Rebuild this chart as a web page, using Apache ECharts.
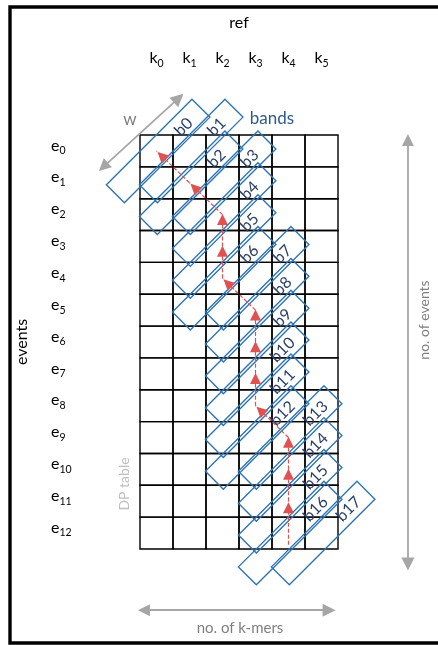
<!DOCTYPE html>
<html><head><meta charset="utf-8">
<script src="https://cdn.jsdelivr.net/npm/echarts@6/dist/echarts.min.js"></script>
<style>html,body{margin:0;padding:0;background:#fff}#c{width:438px;height:645px}</style>
</head><body><div id="c"></div>
<script>
// ---- data ----
const kmerLabels = ['0','1','2','3','4','5'];
const eventLabels = ['0','1','2','3','4','5','6','7','8','9','10','11','12'];
const bandNames = ['b0','b1','b2','b3','b4','b5','b6','b7','b8','b9','b10','b11','b12','b13','b14','b15','b16','b17'];
const bandRows = [0,0,1,1,2,3,4,4,5,6,7,8,9,9,10,11,12,12];
const bandCols = [0,1,1,2,2,2,2,3,3,3,3,3,3,4,4,4,4,5];
const traceCols = [4,4,4,4,3,3,3,3,2,2,2,1,0];
const traceRows = [12.37,11,10,9,8,7,6,5,4,3,2,1,0];
const eventsArrowX = [8.12, 8.12];
const eventsArrowY = [0.16, 13.47];
const kmerArrowX = [0.12, 5.73];
const kmerArrowY = [14.92, 14.92];
const wArrowX = [-1.11, 1.17];
const wArrowY = [1.0, -1.16];

// ---- build ----
const FONT = 'Lato, "Open Sans", sans-serif';
const cells = [];
eventLabels.forEach((e, r) => kmerLabels.forEach((k, c) => cells.push([c, r])));
const bandData = bandNames.map((n, i) => [bandCols[i] + 0.55, bandRows[i] + 0.5]);
const tracePts = traceCols.map((c, i) => [c + 0.5, traceRows[i] + 0.5]);
const arrowSegs = [], connSegs = [];
for (let i = 0; i < tracePts.length - 1; i++) {
  const a = tracePts[i], b = tracePts[i + 1];
  const q = [a[0] + (b[0] - a[0]) * 0.85, a[1] + (b[1] - a[1]) * 0.85];
  arrowSegs.push({coords: [a, q]});
  connSegs.push({coords: [q, b]});
}

const chart = echarts.init(document.getElementById('c'), null, {renderer: 'canvas'});
const sub = () => ({
  b: {fontSize: 16, lineHeight: 16, verticalAlign: 'top', color: '#000', fontFamily: FONT},
  s: {fontSize: 10.5, lineHeight: 27, color: '#000', fontFamily: FONT}
});
chart.setOption({
  animation: false,
  grid: {left: 140, top: 135, width: 198, height: 414},
  xAxis: [
    {type: 'value', min: 0, max: 6, show: false},
    {type: 'category', position: 'top', data: kmerLabels, boundaryGap: true,
     axisLine: {show: false}, axisTick: {show: false}, splitLine: {show: false},
     axisLabel: {interval: 0, margin: 58, formatter: v => '{b|k}{s|' + v + '}', rich: sub()},
     name: 'ref', nameLocation: 'middle', nameGap: 104,
     nameTextStyle: {fontSize: 16, color: '#000', fontFamily: FONT}}
  ],
  yAxis: [
    {type: 'value', min: 0, max: 13, inverse: true, show: false},
    {type: 'category', position: 'left', inverse: true, data: eventLabels, boundaryGap: true,
     axisLine: {show: false}, axisTick: {show: false}, splitLine: {show: false},
     axisLabel: {interval: 0, margin: 89, align: 'left', formatter: v => '{b|e}{s|' + v + '}', rich: sub()},
     name: 'events', nameLocation: 'middle', nameGap: 110, nameRotate: 90,
     nameTextStyle: {fontSize: 16, color: '#000', fontFamily: FONT}}
  ],
  series: [
    {type: 'custom', xAxisIndex: 0, yAxisIndex: 0, data: cells, z: 1, silent: true,
     renderItem: (params, api) => {
       const c = api.value(0), r = api.value(1);
       const p0 = api.coord([c, r]), p1 = api.coord([c + 1, r + 1]);
       return {type: 'rect', shape: {x: Math.min(p0[0], p1[0]), y: Math.min(p0[1], p1[1]),
               width: Math.abs(p1[0] - p0[0]), height: Math.abs(p1[1] - p0[1])},
               style: {fill: 'none', stroke: '#000', lineWidth: 1.4}};
     }},
    {type: 'custom', xAxisIndex: 0, yAxisIndex: 0, data: bandData, z: 2, silent: true, clip: false,
     renderItem: (params, api) => {
       const p = api.coord([api.value(0), api.value(1)]);
       const s = Math.SQRT1_2, hl = 60.5, hw = 12.7;
       const u = [s, -s], v = [s, s];
       const pt = (a, b) => [p[0] + u[0] * a + v[0] * b, p[1] + u[1] * a + v[1] * b];
       const t = pt(35, 1);
       return {type: 'group', children: [
         {type: 'polygon', shape: {points: [pt(hl, -hw), pt(hl, hw), pt(-hl, hw), pt(-hl, -hw)]},
          style: {fill: 'none', stroke: '#2e75b6', lineWidth: 1.4}},
         {type: 'text', x: t[0], y: t[1], rotation: Math.PI / 4,
          style: {text: bandNames[params.dataIndex], fill: '#2c4068', font: '16px ' + FONT,
                  align: 'center', verticalAlign: 'middle', textAlign: 'center', textVerticalAlign: 'middle'}}
       ]};
     }},
    {type: 'lines', coordinateSystem: 'cartesian2d', xAxisIndex: 0, yAxisIndex: 0, z: 3, clip: false, silent: true,
     data: arrowSegs, symbol: ['none', 'triangle'], symbolSize: [9, 11],
     lineStyle: {color: '#e05252', width: 1.2, type: [4, 2], opacity: 1}},
    {type: 'lines', coordinateSystem: 'cartesian2d', xAxisIndex: 0, yAxisIndex: 0, z: 3, clip: false, silent: true,
     data: connSegs, symbol: 'none',
     lineStyle: {color: '#e05252', width: 1.2, type: [4, 2], opacity: 1}},
    {type: 'lines', coordinateSystem: 'cartesian2d', xAxisIndex: 0, yAxisIndex: 0, z: 3, clip: false, silent: true,
     data: [
       {coords: [[eventsArrowX[0], eventsArrowY[0]], [eventsArrowX[1], eventsArrowY[1]]]},
       {coords: [[kmerArrowX[0], kmerArrowY[0]], [kmerArrowX[1], kmerArrowY[1]]]},
       {coords: [[wArrowX[0], wArrowY[0]], [wArrowX[1], wArrowY[1]]]}
     ],
     symbol: ['triangle', 'triangle'], symbolSize: [12, 13],
     lineStyle: {color: '#a6a6a6', width: 1.8, opacity: 1}}
  ],
  graphic: [
    {type: 'rect', shape: {x: 10, y: 7, width: 440, height: 636},
     style: {fill: 'none', stroke: '#000', lineWidth: 3.4}},
    {type: 'text', x: 124, y: 484, rotation: Math.PI / 2,
     style: {text: 'DP table', fill: '#bfbfbf', font: '14px ' + FONT, align: 'center', verticalAlign: 'middle', textAlign: 'center', textVerticalAlign: 'middle'}},
    {type: 'text', x: 130, y: 120,
     style: {text: 'w', fill: '#7f7f7f', font: '17px ' + FONT, align: 'center', verticalAlign: 'middle', textAlign: 'center', textVerticalAlign: 'middle'}},
    {type: 'text', x: 272, y: 119,
     style: {text: 'bands', fill: '#2e5a8a', font: '17px ' + FONT, align: 'center', verticalAlign: 'middle', textAlign: 'center', textVerticalAlign: 'middle'}},
    {type: 'text', x: 424, y: 320, rotation: Math.PI / 2,
     style: {text: 'no. of events', fill: '#7f7f7f', font: '14px ' + FONT, align: 'center', verticalAlign: 'middle', textAlign: 'center', textVerticalAlign: 'middle'}},
    {type: 'text', x: 240, y: 628,
     style: {text: 'no. of k-mers', fill: '#7f7f7f', font: '15px ' + FONT, align: 'center', verticalAlign: 'middle', textAlign: 'center', textVerticalAlign: 'middle'}}
  ]
});
</script></body></html>
